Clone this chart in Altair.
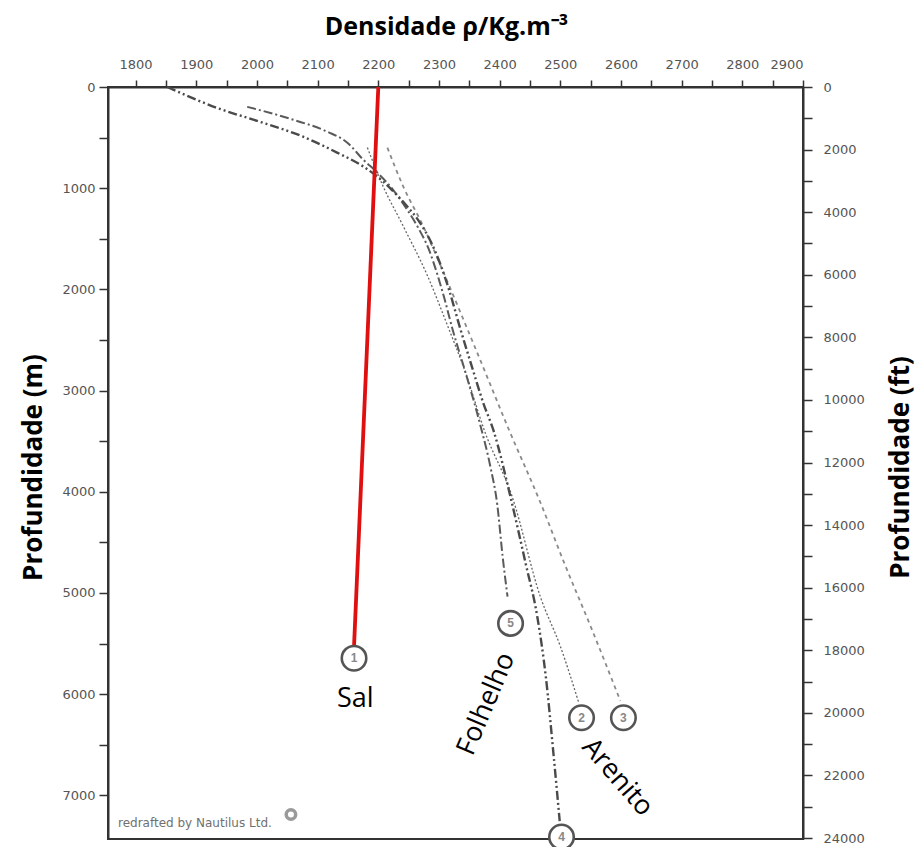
import altair as alt
import pandas as pd

# ---------------- data ----------------
# Salt (red line): density kg/m3 vs depth m
sal_density = [2200, 2160]
sal_depth = [0, 5530]

# curve 2 (thin dotted)
c2_density = [2182, 2208, 2241, 2281, 2314, 2344, 2375, 2421, 2467, 2500, 2530]
c2_depth = [599, 982, 1374, 1865, 2356, 2827, 3397, 4055, 5036, 5527, 6077]

# curve 3 (dashed)
c3_density = [2215, 2241, 2274, 2307, 2360, 2416, 2467, 2507, 2550, 2599]
c3_depth = [599, 982, 1374, 1826, 2582, 3397, 4104, 4712, 5331, 6067]

# curve 4 (dash-dot-dot)
c4_density = [1852, 1934, 2005, 2076, 2132, 2175, 2198, 2223, 2246, 2268, 2286,
              2302, 2317, 2335, 2355, 2373, 2390, 2418, 2443, 2462, 2476, 2489, 2499]
c4_depth = [0, 206, 344, 491, 648, 785, 884, 1021, 1168, 1335, 1522,
            1747, 2012, 2386, 2778, 3122, 3397, 4055, 4712, 5233, 5822, 6607, 7255]

# curve 5 (dash-dot)
c5_density = [1984, 2060, 2116, 2149, 2175, 2198, 2225, 2246, 2266, 2283, 2297,
              2309, 2322, 2344, 2368, 2385, 2396, 2405, 2413]
c5_depth = [196, 324, 442, 550, 717, 844, 1021, 1198, 1394, 1600, 1846,
            2091, 2386, 2827, 3338, 3760, 4123, 4644, 5036]

# numbered end markers
marker_ids = ["1", "5", "2", "3", "4"]
marker_density = [2160, 2418, 2535, 2604, 2502]
marker_depth = [5645, 5301, 6234, 6234, 7412]

# lithology labels
label_text = ["Sal", "Folhelho", "Arenito"]
label_density = [2162, 2378, 2594]
label_depth = [6048, 6097, 6823]

# watermark
credit_text = ["redrafted by Nautilus Ltd."]
credit_density = [1771]
credit_depth = [7275]
logo_density = [2056]
logo_depth = [7190]

# axes
x_ticks = list(range(1800, 2901, 50))
m_ticks = list(range(0, 7001, 500))
ft_ticks = list(range(0, 24001, 1000))
X_DOMAIN = [1754.5, 2900]
M_DOMAIN = [0, 7432]
FT_DOMAIN = [0, 24030]

W, H = 695, 752


def frame(dens, dep):
    return pd.DataFrame({"density": dens, "depth": dep, "i": list(range(len(dens)))})


x_enc = alt.X(
    "density:Q",
    scale=alt.Scale(domain=X_DOMAIN, nice=False, zero=False),
    axis=alt.Axis(
        orient="top", values=x_ticks, format="d",
        labelExpr="datum.value % 100 == 0 ? datum.label : ''",
        title="Densidade ρ/Kg.m⁻³", tickSize=7, labelPadding=9,
        titleX=338, titleY=-53, titleBaseline="alphabetic", titleAlign="center",
        titleFontSize=25,
    ),
)
y_enc = alt.Y(
    "depth:Q",
    scale=alt.Scale(domain=M_DOMAIN, nice=False, zero=False, reverse=True),
    axis=alt.Axis(
        orient="left", values=m_ticks, format="d",
        labelExpr="datum.value % 1000 == 0 ? datum.label : ''",
        title="Profundidade (m)", tickSize=9, labelPadding=4,
        titleAngle=270, titleX=-75, titleY=380, titleBaseline="middle", titleAlign="center",
    ),
)


def curve(dens, dep, dash, width, color):
    return alt.Chart(frame(dens, dep)).mark_line(
        strokeDash=dash, strokeWidth=width, color=color, interpolate="monotone"
    ).encode(x=x_enc, y=y_enc, order="i:Q")


c2 = curve(c2_density, c2_depth, [2, 2], 1.3, "#666666")
c3 = curve(c3_density, c3_depth, [4, 4], 1.8, "#8a8a8a")
c4 = curve(c4_density, c4_depth, [9, 3, 2, 3, 2, 3], 2.4, "#4a4a4a")
c5 = curve(c5_density, c5_depth, [9, 3, 2, 3], 2.0, "#5a5a5a")

red = alt.Chart(frame(sal_density, sal_depth)).mark_line(
    color="#e01010", strokeWidth=3.8
).encode(x=x_enc, y=y_enc, order="i:Q")

mk = pd.DataFrame({"density": marker_density, "depth": marker_depth, "id": marker_ids})
circles = alt.Chart(mk).mark_point(
    shape="circle", filled=True, fill="white", stroke="#555555",
    strokeWidth=2.6, size=600, opacity=1
).encode(x=x_enc, y=y_enc)
circle_nums = alt.Chart(mk).mark_text(
    font="Liberation Sans", fontSize=12, fontWeight="bold", color="#888888",
    align="center", baseline="middle"
).encode(x=x_enc, y=y_enc, text="id:N")

lab = pd.DataFrame({"density": label_density, "depth": label_depth, "t": label_text})


def label(idx, angle):
    return alt.Chart(lab.iloc[[idx]]).mark_text(
        font="Open Sans", fontSize=27, color="black", align="center",
        baseline="middle", angle=angle
    ).encode(x=x_enc, y=y_enc, text="t:N")


sal_lab = label(0, 0)
fol_lab = label(1, 293)
are_lab = label(2, 49)

credit = alt.Chart(pd.DataFrame({"density": credit_density, "depth": credit_depth,
                                 "t": credit_text})).mark_text(
    font="DejaVu Sans", fontSize=12, color="#707070", align="left", baseline="middle"
).encode(x=x_enc, y=y_enc, text="t:N")

logo = alt.Chart(pd.DataFrame({"density": logo_density, "depth": logo_depth})).mark_point(
    shape="circle", filled=False, stroke="#9a9a9a", strokeWidth=3.5, size=90, opacity=1
).encode(x=x_enc, y=y_enc)

meters = alt.layer(c3, c2, c5, c4, red, circles, circle_nums,
                   sal_lab, fol_lab, are_lab, credit, logo)

ft_layer = alt.Chart(pd.DataFrame({"density": [2000], "ft": [0]})).mark_point(
    opacity=0
).encode(
    x=x_enc,
    y=alt.Y(
        "ft:Q",
        scale=alt.Scale(domain=FT_DOMAIN, nice=False, zero=False, reverse=True),
        axis=alt.Axis(
            orient="right", values=ft_ticks, format="d",
            labelExpr="datum.value % 2000 == 0 ? datum.label : ''",
            title="Profundidade (ft)", tickSize=9, labelPadding=11,
            titleAngle=270, titleX=97, titleY=380, titleBaseline="middle",
            titleAlign="center",
        ),
    ),
)

chart = alt.layer(meters, ft_layer).resolve_scale(y="independent").properties(
    width=W, height=H,
    autosize=alt.AutoSizeParams(type="none"),
    padding={"left": 100, "top": 79, "right": 112, "bottom": 8},
).configure_view(
    stroke="#333333", strokeWidth=2
).configure_axis(
    grid=False, domainColor="#333333", domainWidth=2, tickColor="#333333",
    tickWidth=1.5, labelFont="DejaVu Sans", labelFontSize=13, labelColor="#555555",
    titleFont="Open Sans", titleFontWeight="bold", titleFontSize=26, titleColor="black",
)

chart.save("out.html", embed_options={"renderer": "svg", "actions": False})
